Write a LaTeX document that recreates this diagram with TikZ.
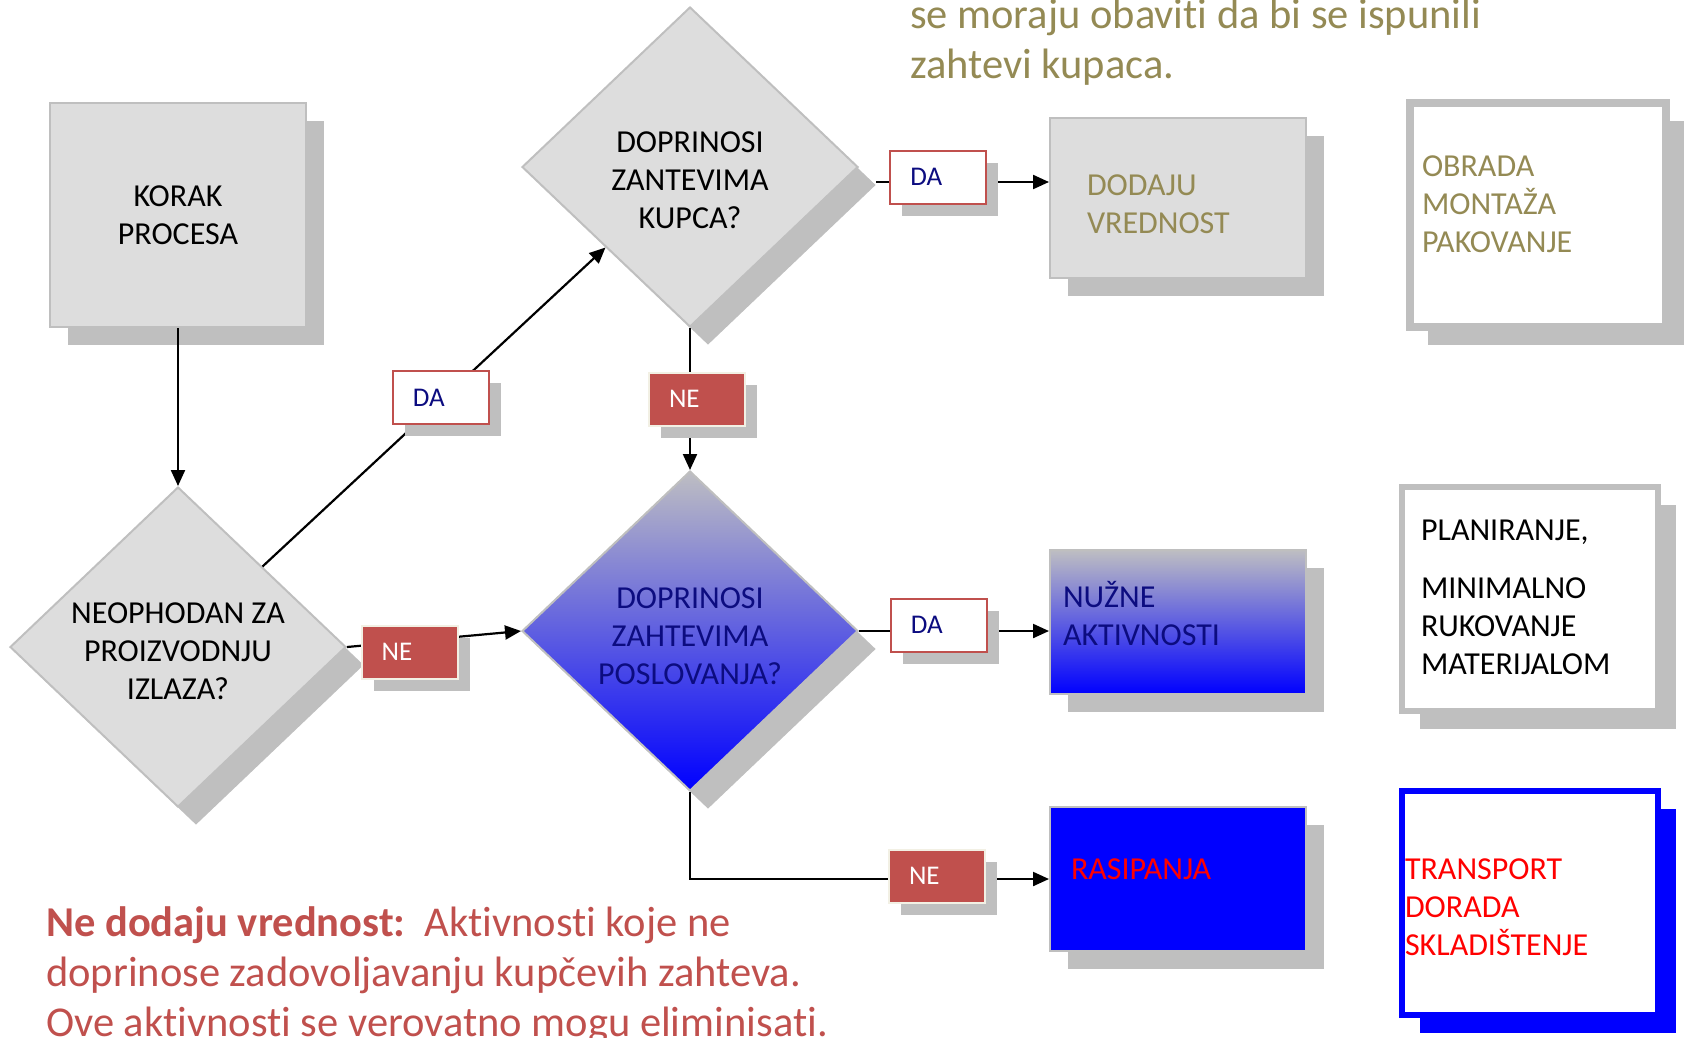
\documentclass[tikz,border=0pt]{standalone}
\usepackage{fontspec}
\setmainfont{Carlito}[Ligatures=CommonOff]
\usepackage{tikz}
\usetikzlibrary{shapes.geometric,shadows,arrows.meta}
\definecolor{boxgray}{HTML}{DDDDDD}
\definecolor{edgegray}{HTML}{BFBFBF}
\definecolor{olivetxt}{HTML}{948A54}
\definecolor{redbox}{HTML}{C0504D}
\definecolor{creamedge}{HTML}{F2F0E4}
\definecolor{navytxt}{HTML}{0C0C80}
\definecolor{topgray}{HTML}{BEBEC2}
\definecolor{fullblue}{HTML}{0000FF}
\definecolor{fullred}{HTML}{FF0000}

\begin{document}
\begin{tikzpicture}[x=1pt,y=-1pt,
    bigshadow/.style={drop shadow={shadow xshift=18pt,shadow yshift=-18pt,fill=#1,opacity=1}},
    bigshadow/.default=edgegray,
    smallshadow/.style={drop shadow={shadow xshift=12pt,shadow yshift=-12pt,fill=edgegray,opacity=1}},
    boxfont/.style={font=\fontsize{32}{38}\selectfont},
    decision/.style={diamond, aspect=1.05, minimum width=336pt, minimum height=320pt, inner sep=0pt,
      text depth=0pt, fill=boxgray, draw=edgegray, line width=2pt, align=center, boxfont, bigshadow},
    procbox/.style={rectangle, minimum width=256pt, minimum height=224pt, text height=58pt, text depth=0pt,
      fill=boxgray, draw=edgegray, line width=2pt, align=center, boxfont, bigshadow},
    resbox/.style={rectangle, minimum height=144pt, inner xsep=#1, text width=256pt-2*#1, text height=20pt,
      draw=edgegray, line width=2pt, align=left, boxfont, bigshadow},
    listbox/.style={rectangle, minimum height=224pt, inner xsep=#1, text width=256pt-2*#1, text height=20pt,
      fill=white, align=left, boxfont},
    yesbox/.style={rectangle, minimum height=53pt, inner xsep=20pt, text width=56pt,
      fill=white, draw=redbox, line width=2pt, text=navytxt, font=\fontsize{27}{30}\selectfont, smallshadow},
    nobox/.style={yesbox, fill=redbox, draw=creamedge, text=white},
    flow/.style={line width=2.2pt, -{Triangle[length=16pt,width=14pt]}}]
  \useasboundingbox (0,0) rectangle (1685,1037);
  % Nodes
  \node[procbox] (korak) at (178,215) {KORAK\\PROCESA};
  \foreach \name/\x/\y/\h/\txt in {dneo/178/647/104pt/{NEOPHODAN ZA\\PROIZVODNJU\\IZLAZA?},
                                   dkup/690/167/122pt/{DOPRINOSI\\ZANTEVIMA\\KUPCA?}} {
    \node[decision, text height=\h] (\name) at (\x,\y) {\txt};
  }
  \node[decision, text height=106pt, top color=topgray, bottom color=fullblue, text=navytxt] (dpos) at (690,631)
    {DOPRINOSI\\ZAHTEVIMA\\POSLOVANJA?};
  \node[resbox=37pt, minimum height=160pt, text depth=26pt, fill=boxgray, text=olivetxt] (dodaju) at (1178,198)
    {DODAJU\\VREDNOST};
  \node[resbox=13pt, text depth=50pt, top color=topgray, bottom color=fullblue, text=navytxt] (nuzne) at (1178,622)
    {NUŽNE\\AKTIVNOSTI};
  \node[resbox=21pt, text depth=20pt, fill=fullblue, text=fullred] (rasip) at (1178,879) {RASIPANJA};
  \node[listbox=12pt, text depth=98pt, draw=edgegray, line width=8pt, text=olivetxt, bigshadow] (obrada) at (1538,215)
    {OBRADA\\MONTAŽA\\PAKOVANJE};
  \node[listbox=19pt, minimum width=254pt, text depth=138pt, draw=edgegray, line width=6pt, bigshadow] (plan) at (1530,599)
    {PLANIRANJE,\\[20pt]MINIMALNO\\RUKOVANJE\\MATERIJALOM};
  \node[listbox=3pt, text depth=68pt, draw=fullblue, line width=6pt, text=fullred, bigshadow=fullblue] (transp) at (1530,903)
    {TRANSPORT\\DORADA\\SKLADIŠTENJE};
  \node[anchor=base west, inner sep=0pt, align=left, text=olivetxt, font=\fontsize{42.5}{50}\selectfont] (title) at (910,78)
    {se moraju obaviti da bi se ispunili\\zahtevi kupaca.};
  \node[anchor=base west, inner sep=0pt, align=left, text=redbox, font=\fontsize{42.5}{50}\selectfont] (note) at (46,1036)
    {\textbf{Ne dodaju vrednost:}\ \ Aktivnosti koje ne\\doprinose zadovoljavanju kupčevih zahteva.\\Ove aktivnosti se verovatno mogu eliminisati.};
  % Edges
  \draw[flow] (korak) -- (dneo);
  \draw[flow] (dneo.north east) -- node[yesbox, pos=0.52, yshift=3pt] (da1) {DA} (dkup.south west);
  \draw[flow] (dkup) -- node[nobox, xshift=7pt] (ne1) {NE} (dpos);
  \draw[flow] ([shift={(17,15)}]dkup.east) -- node[yesbox, pos=0.36, yshift=5pt] (da2) {DA} ([yshift=16pt]dodaju.west);
  \draw[flow] (dneo.east) -- node[nobox, pos=0.36, yshift=-11pt] (ne2) {NE} (dpos.west);
  \draw[flow] (dpos.east) -- node[yesbox, pos=0.42, yshift=6pt] (da3) {DA} (dpos.east -| nuzne.west);
  \draw[flow] (dpos.south) |- node[nobox, pos=0.844, yshift=3pt] (ne3) {NE} (rasip.west);
\end{tikzpicture}
\end{document}
